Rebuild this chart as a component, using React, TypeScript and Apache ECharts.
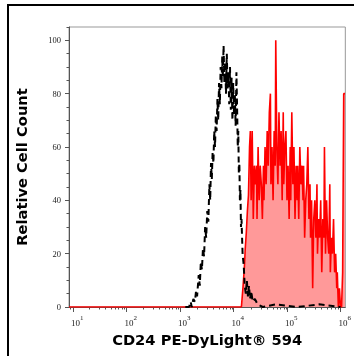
import React, { useEffect, useRef } from "react";
import * as echarts from "echarts";

const X_MIN = 0.926;
const X_MAX = 6.09;
const decadeTicks = [1, 2, 3, 4, 5, 6];
const yTickLabels = [0, 20, 40, 60, 80, 100];

// isotype control (log10 of intensity, relative count)
const controlLog = [3.10, 3.17, 3.20, 3.22, 3.25, 3.28, 3.30, 3.32, 3.35, 3.37, 3.39, 3.41, 3.43, 3.45, 3.47, 3.49, 3.51, 3.53, 3.55, 3.565, 3.58, 3.595, 3.61, 3.625, 3.64, 3.655, 3.67, 3.685, 3.70, 3.715, 3.73, 3.745, 3.76, 3.775, 3.79, 3.80, 3.815, 3.83, 3.845, 3.86, 3.875, 3.89, 3.905, 3.92, 3.935, 3.95, 3.965, 3.98, 3.995, 4.01, 4.025, 4.04, 4.055, 4.07, 4.08, 4.09, 4.10, 4.11, 4.12, 4.13, 4.14, 4.15, 4.17, 4.19, 4.21, 4.23, 4.25, 4.27, 4.29, 4.31, 4.33, 4.36, 4.40, 4.45, 4.55, 4.80, 5.20, 5.60, 6.00];
const controlCount = [0, 0, 2, 0, 3, 2, 6, 4, 12, 8, 17, 14, 22, 19, 30, 26, 36, 32, 46, 40, 54, 48, 58, 54, 66, 60, 72, 66, 78, 70, 84, 76, 90, 82, 94, 86, 98, 84, 92, 80, 95, 82, 88, 76, 90, 74, 86, 70, 84, 72, 80, 68, 88, 72, 60, 66, 50, 54, 40, 44, 30, 33, 20, 16, 8, 5, 10, 4, 8, 3, 6, 2, 3, 1, 0, 1, 0, 1, 0];

// CD24 PE-DyLight 594 stained cells
const cd24Log = [0.926, 4.148, 4.18, 4.204, 4.22, 4.24, 4.26, 4.28, 4.30, 4.315, 4.33, 4.35, 4.37, 4.39, 4.41, 4.43, 4.44, 4.46, 4.48, 4.50, 4.52, 4.54, 4.56, 4.57, 4.59, 4.61, 4.63, 4.65, 4.67, 4.69, 4.70, 4.72, 4.74, 4.76, 4.78, 4.79, 4.81, 4.83, 4.85, 4.87, 4.89, 4.91, 4.93, 4.94, 4.96, 4.98, 5.00, 5.02, 5.04, 5.06, 5.07, 5.09, 5.11, 5.13, 5.15, 5.17, 5.19, 5.20, 5.22, 5.24, 5.26, 5.28, 5.30, 5.31, 5.33, 5.35, 5.37, 5.39, 5.41, 5.43, 5.44, 5.46, 5.48, 5.50, 5.52, 5.54, 5.56, 5.57, 5.59, 5.61, 5.63, 5.65, 5.67, 5.69, 5.70, 5.72, 5.74, 5.76, 5.78, 5.80, 5.81, 5.83, 5.85, 5.87, 5.89, 5.91, 5.93, 5.94, 5.96, 5.98, 6.00, 6.02, 6.04, 6.06, 6.085];
const cd24Count = [0, 0, 8, 15, 22, 28, 36, 42, 60, 66, 40, 66, 33, 53, 46, 53, 33, 60, 40, 53, 46, 33, 53, 40, 60, 46, 66, 53, 73, 80, 46, 60, 40, 66, 53, 100, 60, 46, 73, 53, 66, 40, 73, 46, 60, 66, 40, 53, 33, 60, 40, 73, 46, 60, 33, 53, 40, 53, 33, 60, 46, 53, 40, 53, 26, 40, 46, 60, 33, 46, 26, 40, 7, 33, 40, 26, 46, 20, 33, 26, 40, 13, 33, 26, 60, 20, 40, 26, 20, 46, 13, 26, 20, 33, 13, 20, 7, 13, 0, 7, 0, 0, 13, 80, 80];

export default function App() {
  const ref = useRef<HTMLDivElement>(null);
  useEffect(() => {
    const chart = echarts.init(ref.current!, null, { renderer: "svg" });
    const minorX: number[] = [];
    for (let d = 0; d <= 6; d++) {
      for (let k = 2; k <= 9; k++) {
        const v = d + Math.log10(k);
        if (v > X_MIN && v < X_MAX) minorX.push(v);
      }
    }
    const minorY: number[] = [];
    for (let v = 0; v <= 105; v += 5) if (v % 20 !== 0) minorY.push(v);

    const gridBox = { left: 69, top: 27, right: 6, bottom: 49 };
    const axisColor = "#555";
    const labelFont = "'Liberation Serif', 'DejaVu Serif', serif";
    const titleFont = "'DejaVu Sans', Verdana, sans-serif";

    chart.setOption({
      animation: false,
      grid: [
        { ...gridBox, show: true, borderColor: "#999", borderWidth: 1, backgroundColor: "transparent" },
        { ...gridBox, show: false },
      ],
      xAxis: [
        {
          type: "value",
          gridIndex: 0,
          min: X_MIN,
          max: X_MAX,
          splitLine: { show: false },
          axisLine: { show: true, lineStyle: { color: axisColor, width: 1 } },
          axisTick: { show: true, customValues: decadeTicks, length: 5, lineStyle: { color: axisColor } },
          axisLabel: {
            customValues: decadeTicks,
            margin: 7,
            align: "left",
            padding: [0, 0, 0, -2],
            formatter: (v: number) => `{a|10}{b|${Math.round(v)}}`,
            rich: {
              a: { fontSize: 9, fontFamily: labelFont, color: "#222", lineHeight: 13, verticalAlign: "bottom" },
              b: { fontSize: 7, fontFamily: labelFont, color: "#222", lineHeight: 13, verticalAlign: "top" },
            },
          },
          name: "CD24 PE-DyLight® 594",
          nameLocation: "middle",
          nameGap: 25,
          nameTextStyle: { fontFamily: titleFont, fontWeight: "bold", fontSize: 14.7, color: "#000" },
        },
        {
          type: "value",
          gridIndex: 1,
          min: X_MIN,
          max: X_MAX,
          splitLine: { show: false },
          axisLine: { show: false },
          axisTick: { show: true, customValues: minorX, length: 2.5, lineStyle: { color: axisColor } },
          axisLabel: { show: false },
        },
      ],
      yAxis: [
        {
          type: "value",
          gridIndex: 0,
          min: 0,
          max: 105,
          splitLine: { show: false },
          axisLine: { show: true, lineStyle: { color: axisColor, width: 1 } },
          axisTick: { show: true, customValues: yTickLabels, length: 4, lineStyle: { color: axisColor } },
          axisLabel: {
            customValues: yTickLabels,
            margin: 8,
            fontSize: 8.5,
            fontFamily: labelFont,
            color: "#222",
          },
          name: "Relative Cell Count",
          nameLocation: "middle",
          nameGap: 40,
          nameTextStyle: { fontFamily: titleFont, fontWeight: "bold", fontSize: 14.7, color: "#000" },
        },
        {
          type: "value",
          gridIndex: 1,
          min: 0,
          max: 105,
          splitLine: { show: false },
          axisLine: { show: false },
          axisTick: { show: true, customValues: minorY, length: 2.5, lineStyle: { color: axisColor } },
          axisLabel: { show: false },
        },
      ],
      graphic: [
        {
          type: "rect",
          shape: { x: 8, y: 5, width: 420, height: 420 },
          style: { fill: "none", stroke: "#000", lineWidth: 2 },
          silent: true,
        },
      ],
      series: [
        {
          type: "line",
          xAxisIndex: 0,
          yAxisIndex: 0,
          data: cd24Log.map((x, i) => [x, cd24Count[i]]),
          showSymbol: false,
          lineStyle: { color: "#ff0000", width: 1.6 },
          areaStyle: { color: "#ff9999", opacity: 1 },
          z: 2,
        },
        {
          type: "line",
          xAxisIndex: 0,
          yAxisIndex: 0,
          data: controlLog.map((x, i) => [x, controlCount[i]]),
          showSymbol: false,
          lineStyle: { color: "#000", width: 2, type: [6, 4] },
          z: 3,
        },
      ],
    });
    return () => chart.dispose();
  }, []);
  return <div ref={ref} style={{ position: "fixed", left: 0, top: 0, width: 354, height: 356 }} />;
}
